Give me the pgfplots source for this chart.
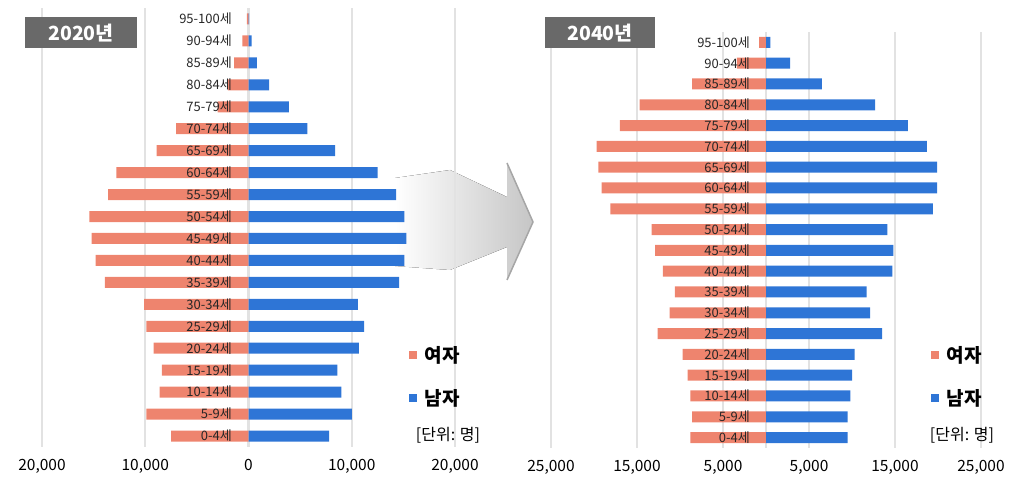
\documentclass[border=0pt]{standalone}
\usepackage{fontspec}
\setmainfont{Noto Sans CJK KR}
\usepackage{pgfplots}
\pgfplotsset{compat=1.18}

\definecolor{fem}{RGB}{238,132,110}
\definecolor{mal}{RGB}{46,117,214}
\definecolor{gridc}{RGB}{226,226,226}
\definecolor{boxc}{RGB}{105,105,105}

\pgfplotstableread{
y f20 m20 f40 m40
0  -7500  7800  -8800  9500
1  -9900  10000 -8600  9500
2  -8600  9000  -8800  9800
3  -8400  8600  -9100  10000
4  -9200  10700 -9700  10300
5  -9900  11200 -12600 13500
6  -10100 10600 -11200 12100
7  -13900 14600 -10600 11700
8  -14800 15100 -12000 14700
9  -15200 15300 -12900 14800
10 -15400 15100 -13300 14100
11 -13600 14300 -18100 19400
12 -12800 12500 -19100 19900
13 -8900  8400  -19500 19900
14 -7000  5700  -19700 18700
15 -3000  3900  -17000 16500
16 -2000  2000  -14700 12700
17 -1400  800   -8600  6500
18 -600   300   -3400  2800
19 -150   60    -800   500
}\pyr

\pgfplotsset{
  base/.style={
  scale only axis, anchor=south west,
  axis line style={draw=none}, major tick length=0pt,
  ymin=-0.5, ymax=19.5,
  clip=false,
  },
  pyr/.style={base,
  xmajorgrids, grid style={gridc, line width=2.2pt},
  ytick=\empty,
  xticklabel style={font=\fontsize{15.5}{15.5}\selectfont, yshift=-9pt},
  /pgf/number format/assume math mode=true,
  xbar, /pgf/bar shift=0pt, bar width=11pt,
  },
  agelabels/.style={base,
  xtick=\empty,
  ytick={0,...,19},
  yticklabels={0-4세,5-9세,10-14세,15-19세,20-24세,25-29세,30-34세,35-39세,40-44세,45-49세,50-54세,55-59세,60-64세,65-69세,70-74세,75-79세,80-84세,85-89세,90-94세,95-100세},
  yticklabel style={anchor=east, font=\fontsize{13}{13}\selectfont, text=black!85, inner sep=0pt},
  },
}

\begin{document}
\begin{tikzpicture}
\path[use as bounding box] (0,0) rectangle (1011pt,484pt);
% decorative arrow
\fill[left color=white, right color=gray!45, draw=none]
  (395pt,306pt) -- (450pt,314pt) -- (507pt,287pt) -- (507pt,321pt) -- (533pt,262pt)
  -- (507pt,204pt) -- (507pt,237pt) -- (450pt,214pt) -- (395pt,218pt) -- cycle;
\draw[gray!70, line width=1.5pt] (507pt,321pt) -- (533pt,262pt) -- (507pt,204pt);

% left: 2020
\begin{axis}[pyr, at={(42pt,37pt)}, width=413pt, height=439pt,
  xmin=-20000, xmax=20000,
  xtick={-20000,-10000,0,10000,20000},
  xticklabels={{20,000},{10,000},0,{10,000},{20,000}}]
\addplot[fill=fem, draw=none] table[x=f20, y=y]{\pyr};
\addplot[fill=mal, draw=none] table[x=m20, y=y]{\pyr};
\end{axis}
\begin{axis}[agelabels, at={(42pt,37pt)}, width=413pt, height=439pt,
  xmin=-20000, xmax=20000, yticklabel style={xshift=190pt}]
\end{axis}

% right: 2040
\begin{axis}[pyr, at={(551pt,36pt)}, width=430pt, height=416pt,
  xmin=-25000, xmax=25000,
  xtick={-25000,-15000,-5000,5000,15000,25000},
  xticklabels={{25,000},{15,000},{5,000},{5,000},{15,000},{25,000}},
  extra x ticks={0}, extra x tick labels={}]
\addplot[fill=fem, draw=none] table[x=f40, y=y]{\pyr};
\addplot[fill=mal, draw=none] table[x=m40, y=y]{\pyr};
\end{axis}
\begin{axis}[agelabels, at={(551pt,36pt)}, width=430pt, height=416pt,
  xmin=-25000, xmax=25000, yticklabel style={xshift=199pt}]
\end{axis}

% titles
\node[fill=boxc, text=white, font=\bfseries\fontsize{19.5}{19.5}\selectfont, minimum width=112pt, minimum height=31pt, inner sep=0pt] at (81pt,451pt) {2020년};
\node[fill=boxc, text=white, font=\bfseries\fontsize{19.5}{19.5}\selectfont, minimum width=110pt, minimum height=31pt, inner sep=0pt] at (600pt,451pt) {2040년};

% legends
\foreach \lx/\ux in {413/448, 935/962}{
  \fill[fem] (\lx pt-4pt,129pt-4pt) rectangle (\lx pt+4pt,129pt+4pt);
  \node[anchor=west, font=\bfseries\fontsize{19}{19}\selectfont] at (\lx pt+8pt,129pt) {여자};
  \fill[mal] (\lx pt-4pt,86pt-4pt) rectangle (\lx pt+4pt,86pt+4pt);
  \node[anchor=west, font=\bfseries\fontsize{19}{19}\selectfont] at (\lx pt+8pt,86pt) {남자};
  \node[font=\fontsize{16}{16}\selectfont] at (\ux pt,49pt) {[단위: 명]};
}
\end{tikzpicture}
\end{document}
